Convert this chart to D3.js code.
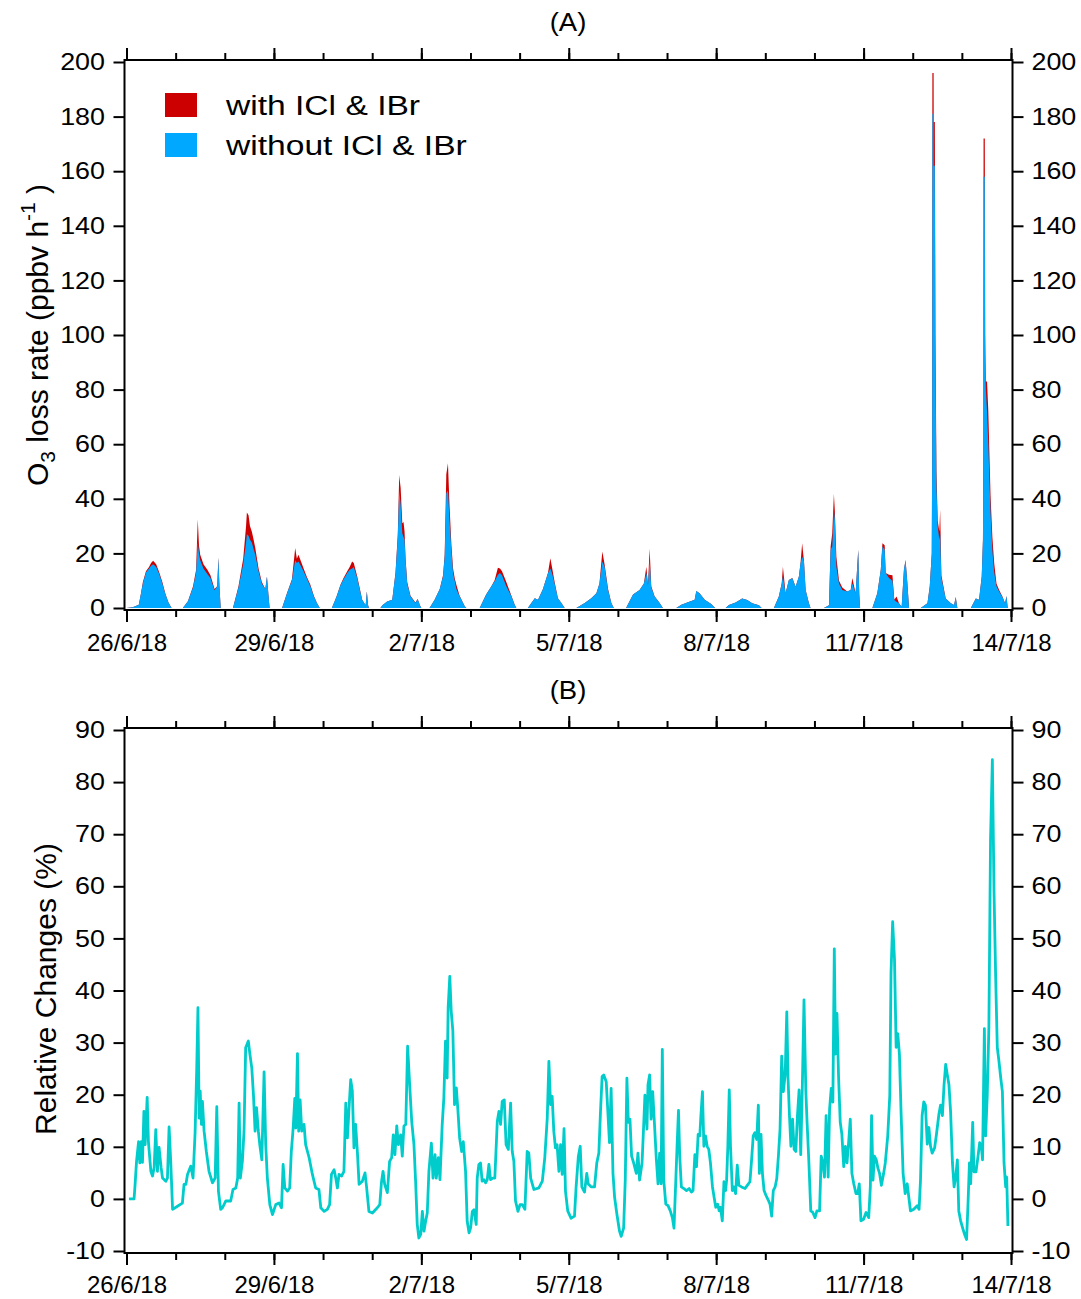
<!DOCTYPE html>
<html><head><meta charset="utf-8">
<script src="https://cdn.jsdelivr.net/npm/d3@7"></script>
<style>
body{margin:0;background:#fff}
svg{display:block}
text{font-family:"Liberation Sans",Arial,sans-serif;fill:#000}
</style>
</head><body>
<svg id="c" width="1081" height="1299"></svg>
<script>
// ---------- DATA ----------
// hours since 26/6/18 00:00
const lossHours = [
0,3,6,7,8,9.5,11,12,13,14.5,16,17.5,19,20.5,22,
27.5,30,32.5,34,34.8,35.4,36,37.6,39.5,41,43,44.3,44.9,45.4,46,
52,54.7,57,58.4,58.8,59.6,60.3,61.2,62.1,62.9,64.5,66.1,67.8,68.6,69.3,69.9,
76,78.4,80.8,82.4,83.2,84,86.5,88,89.8,91.5,93,94.4,
100.3,102.5,104.5,106,107.8,109,110.2,111,112.7,114,115.1,116.8,117.4,118,118.4,
124,125,127.3,129.8,131.4,132.5,133.2,133.9,134.7,135.3,135.8,136.3,137.1,138.7,141.1,142.2,143.3,144,
148,150.5,153,154.6,155.4,156.2,157,157.8,158.7,159.5,160.3,161.1,162.7,165.2,166,
172.5,175.7,178.2,179.8,181.4,182.4,183.4,185.5,188,189.6,190.4,
196,199.4,201,203.4,205.9,207,207.8,209.1,210.7,212.4,214,
219.7,223.8,227,229.5,231,232.4,233.5,235.2,236.8,238,
244,247.4,250.6,252.7,253.9,254.7,255.5,256.3,257.9,260.4,262,
268.5,271,274.2,277.5,278.3,279.9,282.4,285.6,287.5,
292.6,294.2,297.5,300.7,303.2,305.6,308.9,310.2,
316.2,318.6,320,320.6,321.9,323.5,325.2,326.8,328.4,329.2,330,330.9,331.7,333.3,334.1,
340.6,343.1,343.9,344.7,345.5,346,346.7,348,349.6,352,353.7,354.5,356.1,357.4,357.9,358.3,
364.3,366.7,368.4,369.2,370.3,370.8,372.4,374.1,375,376.1,377.3,378.6,379.7,380.5,381.4,382.2,
387.9,391.2,392.3,393.3,393.5,393.6,394.2,394.25,394.8,395.1,395.6,396.2,397,397.4,398,400.1,402.6,404.2,405,405.8,
412.4,414.8,416.4,417.7,418.3,418.5,418.6,419.2,419.4,419.7,420.3,420.9,422,422.9,423.8,424.9,426.2,427.8,429.1,429.8,430.4
];
// O3 loss rate with ICl & IBr (ppbv h-1)
const lossWith = [
0,0.3,1.2,5,9.5,13.5,15,16.5,17.3,16,13,9.5,5.2,2,0,
0,2.5,8,14,32.5,23,19.5,16,14,12,7,8,18.5,8,0,
0,8,18,30,35,34,30,28,25,22,14.5,9.5,7,11.5,5,0,
0,5.5,10.5,22,18,19.5,14.5,11.5,8.5,4.5,1.8,0,
0,4,8.5,11,13.5,15,17,16.5,11.5,7,3,1,6,1,0,
0,1,2.4,3,13,27,48.7,44,31,31.5,28,18,9.5,4.5,2,3.3,1,0,
0,3,7,12,19.5,49,53,37,23,14.5,11,8.5,4.5,0.6,0,
0,5,8,10.2,14.7,14.5,13.5,9.5,4.5,1.2,0,
0,3.6,3,7,13,18.2,15,9.5,3.6,1.8,0,
0,1.8,3.6,5.4,9,20.7,16,7,1.8,0,
0,4.9,6.6,9,15.1,8.5,21.8,8,4.3,1.8,0,
0,1.2,2.1,3,6.2,5.4,3,1.5,0,
0,1.1,2,3.5,2.9,1.7,1,0,
0,4.2,9,15.1,5.4,10.3,11,7.8,11.5,16.4,23.7,17,6.6,1.7,0,
0,1,22.5,27.4,41.8,35,18.8,10,7.5,6,6.6,11,5.4,21.3,5,0,
0,5.4,14,23.7,23,12.8,12.2,12,3,4.2,1.7,0.5,14,17.6,9,0,
0,1.7,7.8,20,60,196,196,178,178,100,50,32,28,36,12,3.5,1.7,1.1,4,0,
0,3.5,3,11.5,25,60,172,172,100,83,83,72.5,41.4,26,16.4,9,6.6,4.2,1.7,4.4,0
];
// O3 loss rate without ICl & IBr (ppbv h-1)
const lossWithout = [
0,0.3,1.2,5,9,13,14.5,15.5,16,15,12.5,9,5,2,0,
0,2.5,7.5,13,24,20,17.5,14.5,12.5,11,6.5,8,18.5,8,0,
0,7.5,16,24,27,26.5,25,24,21.5,19.5,13.5,9,7,11.5,5,0,
0,5.4,10.2,17.5,16.5,17,13.5,11,8,4.3,1.8,0,
0,4,8.3,10.5,12.8,14,14.5,15,11,6.5,3,1,6,1,0,
0,1,2.4,3,12.8,26,43,37.7,27.3,26,25,17.6,9,4.3,1.8,3.3,1,0,
0,3,7,11.5,18.8,42,43,32,21,12.8,10,7,4.3,0.6,0,
0,4.9,8,9.8,12.2,12.8,12,8,4.3,1.2,0,
0,3.6,3,7,12.8,14.5,12.8,9,3.6,1.8,0,
0,1.8,3.6,5.4,9,17,15.1,6.6,1.8,0,
0,4.9,6.6,9,12.8,8.3,17.6,7.6,4.3,1.8,0,
0,1.2,2.1,3,6.2,5.4,3,1.5,0,
0,1.1,2,3.5,2.9,1.7,1,0,
0,4.2,9,11.5,5.4,10.3,10.9,7.8,11.5,16.4,18.8,17,6.6,1.7,0,
0,1,21.3,22.5,35.9,32,15.1,9,6.6,6,6.6,9,5.4,21.3,5,0,
0,5.4,14,22.5,21.3,12.8,11,10,2.9,2.3,1.7,0.5,14,17.6,9,0,
0,1.7,7.8,20,55,181,181,162,162,90,45,30,25,27,11,3.5,1.7,1.1,4,0,
0,3.5,3,11.5,25,55,158,158,90,80,72,60,35,21,13,8,6,4,1.7,4.4,0
];
// Relative changes (%)
const relHours = [
1.2,3.7,4.2,4.9,5.9,6.5,7.2,7.8,8.5,9.1,10.1,10.7,11.9,12.7,13.5,14.3,15.1,15.9,16.9,17.6,19.2,20,20.8,21.6,22.5,24.9,27.3,28.1,29,29.8,31.4,32.5,33.5,34.3,34.9,35.5,36,36.6,37.1,37.9,39,40.3,42,43.3,44.1,44.9,46,46.9,48.5,50.9,
52,53.4,54.3,55,55.6,56.6,57.4,58.2,59.5,60.3,61.2,62,62.8,63.5,64.4,65.1,66.1,67.2,68,68.8,70,71.3,72.9,74.5,75.7,76.5,77.3,78.6,79.7,80.5,81.4,82.2,82.7,83.5,84.1,84.8,85.6,86.7,87.5,89.2,90.8,92.4,94,94.9,96.5,98.1,99.2,
100.1,101.4,102.2,103,103.8,105.1,106.2,107.1,107.9,108.7,109.5,110.3,111.1,111.9,112.8,113.6,115.2,116.5,117.3,118.4,120.1,122.5,123.7,124.5,125.3,126.1,127.4,128.5,129.5,130.3,131.1,132,132.8,133.9,134.7,135.5,136.4,137.3,138.3,139.3,140.4,141.2,142,142.8,143.7,144.5,145.3,146.1,146.9,147.7,148.9,149.7,
150.7,151.3,152.3,153.1,154.2,155,155.8,156.6,157.1,157.9,158.6,159.4,160.2,161.1,161.9,162.7,163.7,164.5,165.6,166.4,167.3,168.1,168.9,169.7,170.8,171.3,172.1,172.9,173.7,174.6,175.4,176.2,177,177.8,178.9,179.9,181.1,181.9,182.7,183.5,184.5,185.4,186.5,187.6,188.4,189.2,190,191.2,192.2,193.3,194.6,195.7,196.5,197.4,199,
201.4,203.1,204.3,205.5,206.3,207.1,207.9,208.7,209.5,210.3,211.2,212,212.8,213.7,214.4,215.5,217.1,218.8,219.6,220.7,221.6,222.4,223.7,224.8,225.5,226.9,228.6,229.7,230.7,231.5,232.3,233.1,234.3,235.1,235.9,236.7,237.6,238.4,239.5,240.8,241.6,242.8,243.6,244.4,245.1,245.9,246.7,247.7,249,249.8,
250.6,251.8,252.3,253.2,254.2,254.7,255.5,256.2,257,258,258.8,259.6,260.4,261.1,261.7,262.4,263.4,264.5,265.6,266.6,267.4,268.1,268.9,269.6,270.2,271,272.2,273.5,274.8,275.9,276.7,277.6,278.4,279.2,280,280.5,281.3,282,282.8,283.6,284.4,285.2,286.2,287,287.8,288.7,289.5,290.1,291,291.8,292.6,293.1,293.7,294.4,295,295.9,296.7,297.5,298.3,299.1,
300.4,302.1,303.2,304.5,305.3,306.1,306.9,307.8,308.6,309.1,309.9,310.6,311.4,312.3,313.5,314.3,315.1,315.9,316.8,317.6,318.4,319.2,320,320.8,321.7,322.5,323.1,323.8,324.5,325.3,326.1,326.9,327.7,328.5,329.3,330.1,330.9,331.8,332.4,333.3,334.2,335.2,336.3,337.2,338.5,339.3,340.1,340.9,341.7,342.7,343.4,344.2,345,345.7,346.3,347,347.8,348.6,349.4,
350.3,351.1,351.9,352.8,353.5,354.3,355.2,356.3,357.1,357.9,358.7,360,361.2,362.5,363.3,363.9,364.6,365.3,366.2,367,367.8,368.7,369.8,370.6,371.8,372.8,373.4,374.2,375.1,375.9,376.7,377.5,378.3,379.3,380.3,381.3,382.1,382.9,384.5,386.2,387.1,387.8,388.6,389.4,390.2,391.1,391.9,392.7,393.5,394.7,395.6,396.8,397.6,398.5,399.3,
400.1,400.9,401.7,402.5,403.4,404.2,405,405.8,406.5,407.4,408.4,409.4,410.3,411,411.7,412.3,413.3,413.9,414.9,415.9,416.7,417.5,418.1,419,419.6,420.4,421.2,422,422.9,423.7,424.5,425.3,426.1,427,427.8,428.6,429.4,429.9,430.5
];
const relChange = [
0,0,2.8,7.2,11,6.9,11,7,16.8,10.4,19.5,11,5.3,4.4,6,13.3,5.3,9.9,6,4,3.4,4,13.8,7.2,-2,-1.4,-0.8,2.8,2.8,4.7,6.3,4,12.7,25,36.7,15.5,20.7,14.3,18.7,13,9.1,5.3,3.1,4,17.7,1.5,-2,-1.7,-0.4,-0.4,
1.8,2.1,4,18.4,4,7.2,13,29,30.3,27.7,25.1,20,13,17.5,13,10.4,7.5,24.4,10.4,4,-1.1,-3,-1.1,-0.8,-1.7,6.6,2.1,1.5,2.1,9.1,13.6,19.3,13.6,27.9,13,19,13,14.3,10.4,7.9,4.7,2.1,1.8,-1.7,-2.4,-2,-1.1,
4.7,5.6,4,2.1,4.7,4.4,5.3,18.4,11.7,17.5,22.9,20.7,9.8,14.3,8.8,2.8,3.4,5,2.1,-2.4,-2.7,-1.7,-1.1,3.1,5.3,2.8,1.2,7.2,7.9,12.3,8.5,14,10.4,12.3,8.2,14,14.3,29.3,21.9,14.9,10.4,3.4,-4.9,-7.5,-6.8,-2.4,-6.2,-4.3,-2.7,5.3,10.7,4,
8.5,4,7.9,3.7,14.3,19.4,30.3,23.2,36.7,42.7,36,32.2,18.1,21.3,16.8,11.7,9.1,11,5.3,-4.3,-6.5,-5.5,-2.4,-2.1,-4.9,4,6.6,6.9,3.4,3.7,3.1,3.7,6.6,3.7,4,4,14.9,16.8,14.3,18.7,19,10.4,9.5,18.4,9.1,7.2,-0.4,-2.4,-1.1,-1.1,-2,9.1,8.8,4,1.8,
2.1,3.4,7.9,15.5,26.4,18.1,19.7,13,9.8,10.4,5.3,10.4,4.7,13.5,1.5,-2.3,-3.7,-3.3,2.3,8.2,10.1,2.3,1.3,4.9,2.9,2.3,2.3,6.9,8.8,16.7,23.5,23.8,22.5,16.7,10.8,21.2,4.9,0.3,-2.9,-6.2,-7.2,-5.6,3.6,23.2,14.7,15.3,8.2,6.9,4.9,8.8,
3.6,6.9,11.4,19.9,13.4,21.9,23.8,15.3,20.6,13.4,7.5,2.9,8.8,2.9,28.7,3.6,-1,-1.3,-2.3,-3.6,-5.6,1.6,10.1,17,8.2,2.3,2,1.6,2,1.3,1.6,8.5,6.2,12.4,12.1,15.7,20.6,10.1,12.1,10.1,9.5,6.9,2.3,0.3,-1.6,-1,-2.3,-1.6,-4.2,3.3,1.6,3.6,10.1,20.9,10.1,1.6,2.3,1,6.5,2.6,
2.3,2,2.6,3.3,7.5,12.1,12.7,11.4,18,4.9,12.4,4.9,1.6,0.7,-0.3,-1,-3.3,1.6,2.3,3.9,8.2,13.4,27.4,20.6,23.8,35.9,23.2,16,10.1,15.3,9.5,9.1,16,20.9,8.5,21.9,38.2,20.6,14.7,6.9,-2.3,-2.6,-3.6,-2.3,-2.3,8.2,6.9,4.2,16,4.2,17.3,21.2,18.6,48,27.8,35.6,23.2,14.7,12.4,
6.2,10.1,6.9,11.4,15.3,4.9,2.9,1,1,2.9,-4.2,-3.9,-2.6,-3.6,2.3,16,3.6,8.2,7.5,5.9,4.9,2.6,4.9,6.9,12.1,19.9,43.4,53.2,46,29.1,31.7,27.8,16.7,4.9,1,2.9,0.3,-2.3,-2,-1.3,-2,3.6,16,18.6,18,10.5,13.7,10.1,8.8,9.8,12.4,16.3,18,16,21.9,
25.8,23.8,21.9,16.7,6.9,2.3,4.2,7.5,-2.3,-4.2,-5.6,-6.9,-7.8,-1,6.9,2.9,14.7,5.2,5.2,8.2,10.8,10.1,7.5,32.7,12.1,19.9,33,68.9,84.3,59.1,42.8,29.1,26.5,23.2,20.6,6.9,2.3,4.2,-5.2
];
const yTicksA = [0,20,40,60,80,100,120,140,160,180,200];
const yTicksB = [-10,0,10,20,30,40,50,60,70,80,90];
const dateTickLabels = ["2018-06-26","2018-06-29","2018-07-02","2018-07-05","2018-07-08","2018-07-11","2018-07-14"];
const seriesNames = ["with ICl & IBr","without ICl & IBr"];
const seriesColors = ["#cc0000","#00a8ff"];

// ---------- CHART ----------
const svg = d3.select("#c");
const t0 = Date.UTC(2018,5,26);
const toDate = h => new Date(t0 + h*3600e3);
const parse = d3.utcParse("%Y-%m-%d");
const majorDates = dateTickLabels.map(parse);
const allDays = d3.utcDay.range(parse("2018-06-26"), new Date(parse("2018-07-14").getTime()+1));
const fmt = d3.utcFormat("%-d/%-m/%y");

const x = d3.scaleUtc().domain([parse("2018-06-26"), parse("2018-07-14")]).range([126.5, 1011]);
const yA = d3.scaleLinear().domain([0,200]).range([608,62]);
const yB = d3.scaleLinear().domain([-10,90]).range([1251,730]);

const numScale = 1.12, numSize = 24, dateSize = 24;

function frameAxes(y, ticks, yMin, yMax, dateLabelPad){
  const L = x.range()[0]-2, R = x.range()[1]+1.5;
  const T = y(yMax)-2, B = y(yMin)+2;
  const g = svg.append("g");
  const numFmt = d => String(d);
  const gl = g.append("g").attr("transform",`translate(${L},0)`)
    .call(d3.axisLeft(y).tickValues(ticks).tickSize(11).tickPadding(8.5).tickFormat(numFmt));
  const gr = g.append("g").attr("transform",`translate(${R},0)`)
    .call(d3.axisRight(y).tickValues(ticks).tickSize(11).tickPadding(8).tickFormat(numFmt));
  const gb = g.append("g").attr("transform",`translate(0,${B})`)
    .call(d3.axisBottom(x).tickValues(majorDates).tickSize(12).tickPadding(dateLabelPad).tickFormat(fmt));
  g.append("g").attr("transform",`translate(0,${B})`)
    .call(d3.axisBottom(x).tickValues(allDays).tickSize(7).tickFormat(""));
  g.append("g").attr("transform",`translate(0,${T})`)
    .call(d3.axisTop(x).tickValues(majorDates).tickSize(12).tickFormat(""));
  g.append("g").attr("transform",`translate(0,${T})`)
    .call(d3.axisTop(x).tickValues(allDays).tickSize(7).tickFormat(""));
  g.selectAll(".domain").remove();
  g.selectAll(".tick line").attr("stroke","#000").attr("stroke-width",2);
  g.selectAll("text").attr("font-family",'"Liberation Sans",Arial,sans-serif').attr("fill","#000");
  [gl,gr].forEach(ga => ga.selectAll("text").attr("font-size",numSize).each(function(){
    const t=d3.select(this); const xv=+t.attr("x");
    t.attr("x", xv/numScale).attr("transform",`scale(${numScale},1)`);
  }));
  gb.selectAll("text").attr("font-size",dateSize);
  g.append("path").attr("d",`M${L},${T}H${R}V${B}H${L}Z`)
    .attr("fill","none").attr("stroke","#000").attr("stroke-width",2);
}

// Panel A areas
const lossData = lossHours.map((h,i)=>({t:toDate(h), w:lossWith[i], wo:lossWithout[i]}));
const areaW = d3.area().x(d=>x(d.t)).y0(yA(0)).y1(d=>yA(d.w));
const areaWo = d3.area().x(d=>x(d.t)).y0(yA(0)).y1(d=>yA(d.wo));
svg.append("path").datum(lossData).attr("d",areaW).attr("fill",seriesColors[0]);
svg.append("path").datum(lossData).attr("d",areaWo).attr("fill",seriesColors[1]);
frameAxes(yA, yTicksA, 0, 200, 12);

// Panel B line
const relData = relHours.map((h,i)=>({t:toDate(h), v:relChange[i]}));
svg.append("path").datum(relData)
  .attr("d", d3.line().x(d=>x(d.t)).y(d=>yB(d.v)))
  .attr("fill","none").attr("stroke","#00cccc").attr("stroke-width",2.8).attr("stroke-linejoin","round");
frameAxes(yB, yTicksB, -10, 90, 11);

// Legend
const lg = svg.append("g");
seriesNames.forEach((n,i)=>{
  lg.append("rect").attr("x",165).attr("y",93+i*40).attr("width",32).attr("height",24).attr("fill",seriesColors[i]);
  lg.append("text").attr("transform",`translate(226,${115+i*40}) scale(1.2,1)`)
    .attr("font-size",28).text(n);
});

// Panel titles
svg.append("text").attr("transform","translate(568,31) scale(1.1,1)").attr("text-anchor","middle").attr("font-size",25).text("(A)");
svg.append("text").attr("transform","translate(568,699) scale(1.1,1)").attr("text-anchor","middle").attr("font-size",25).text("(B)");

// Y titles
const ta = svg.append("text").attr("transform","translate(48,335) rotate(-90)")
  .attr("text-anchor","middle").attr("font-size",30);
ta.append("tspan").text("O");
ta.append("tspan").attr("font-size",21).attr("dy",7).text("3");
ta.append("tspan").attr("dy",-7).text(" loss rate (ppbv h");
ta.append("tspan").attr("font-size",21).attr("dy",-13).text("-1");
ta.append("tspan").attr("dy",13).text(" )");
svg.append("text").attr("transform","translate(56,989) rotate(-90)")
  .attr("text-anchor","middle").attr("font-size",30).text("Relative Changes (%)");
</script>
</body></html>
